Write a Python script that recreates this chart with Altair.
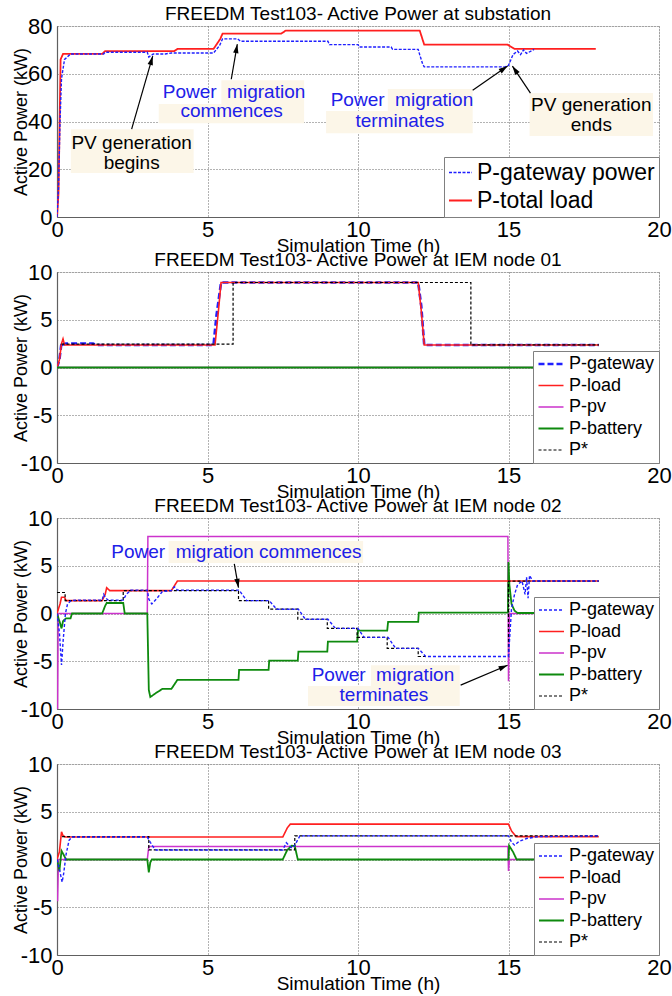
import math
import altair as alt
import pandas as pd

FONT = "Liberation Sans"
BLUE = "#1f1fff"
RED = "#ff1f1f"
MAG = "#cc33cc"
GRN = "#0e8a0e"
BLK = "#000000"
TXTBLUE = "#2020e8"
BEIGE = "#fcf6e8"
W, H = 602, 191

# ---------------- data: substation ----------------
sub_load_t = [0, 0.05, 0.12, 0.2, 1.5, 1.6, 3.9, 4.0, 5.2, 5.42, 5.5, 7.45, 7.6, 12.05, 12.2, 14.97, 15.2, 17.9]
sub_load_p = [0, 10, 66, 68.3, 68.3, 69.5, 69.5, 70.4, 70.4, 74.5, 76.8, 76.8, 78.1, 78.1, 72.2, 72.2, 70.4, 70.4]
sub_gw_t = [0, 0.05, 0.1, 0.15, 0.25, 0.45, 1.55, 1.6, 3.0, 3.05, 3.2, 3.6, 3.8, 5.2, 5.4, 5.5, 6.0, 6.1, 9.0, 9.05,
            10.0, 10.05, 11.1, 11.15, 12.0, 12.05, 12.15, 12.2, 14.9, 15.0, 15.05, 15.15, 15.3, 15.4, 15.5, 15.6, 15.85]
sub_gw_p = [0, 12, 40, 58, 66, 68.3, 68.3, 69.0, 69.0, 67.0, 68.3, 68.3, 68.7, 68.7, 71.8, 74.6, 74.6, 73.6, 73.6, 72.2,
            72.2, 71.2, 71.2, 70.2, 70.2, 68.0, 64.0, 62.9, 62.9, 63.5, 65.0, 68.0, 69.5, 68.0, 70.0, 68.5, 70.2]

# ---------------- data: IEM node 01 ----------------
n1_gw_t = [0, 0.08, 0.15, 0.2, 0.3, 1.2, 1.3, 5.2, 5.3, 5.45, 12.0, 12.1, 12.2, 18.0]
n1_gw_p = [0, 0.8, 2.6, 2.4, 2.5, 2.5, 2.36, 2.36, 5.5, 8.9, 8.9, 6.5, 2.36, 2.36]
n1_load_t = [0, 0.08, 0.15, 0.2, 0.25, 5.25, 5.35, 5.45, 12.0, 12.1, 12.2, 18.0]
n1_load_p = [0, 0.8, 2.5, 3.0, 2.36, 2.36, 5.5, 8.9, 8.9, 6.0, 2.36, 2.36]
n1_pv_t = [0, 18.0]
n1_pv_p = [0, 0]
n1_batt_t = [0, 18.0]
n1_batt_p = [0, 0]
n1_ps_t = [0.15, 5.85, 5.85, 13.75, 13.75, 18.0]
n1_ps_p = [2.45, 2.45, 8.9, 8.9, 2.36, 2.36]

# ---------------- data: IEM node 02 ----------------
n2_gw_t = [0, 0.08, 0.15, 0.2, 0.28, 0.35, 0.45, 0.6, 1.5, 1.55, 1.62, 1.7, 2.2, 2.3, 2.45, 3.0, 3.05, 3.15, 3.3, 3.5,
           3.8, 3.9, 4.0, 6.05, 6.3, 7.05, 7.3, 8.02, 8.25, 9.0, 9.25, 10.0, 10.2, 11.0, 11.25, 12.0, 12.25, 15.0, 15.05,
           15.1, 15.2, 15.3, 15.45, 15.55, 15.6, 15.65, 15.7, 15.8, 18.0]
n2_gw_p = [0, -2.0, -5.4, -3.0, 0.0, 1.0, 1.3, 1.4, 1.4, 2.0, 1.6, 1.4, 1.4, 2.0, 2.45, 2.45, 1.5, 1.0, 1.5, 2.3,
           2.4, 2.8, 2.45, 2.45, 1.35, 1.35, 0.45, 0.45, -0.6, -0.6, -1.56, -1.56, -2.5, -2.5, -3.65, -3.65, -4.5, -4.5, -2.0,
           0.5, 2.0, 3.0, 3.4, 2.0, 3.8, 1.6, 4.0, 3.4, 3.4]
n2_load_t = [0, 0.1, 0.15, 0.25, 0.3, 1.5, 1.6, 1.65, 1.75, 3.8, 4.0, 18.0]
n2_load_p = [0, 1.0, 1.7, 1.7, 1.35, 1.35, 2.0, 2.7, 2.4, 2.4, 3.4, 3.4]
n2_pv_t = [0, 0.02, 0.04, 3.0, 3.02, 14.98, 15.0, 15.03, 18.0]
n2_pv_p = [-10, -10, 0, 0, 8.05, 8.05, -7.1, 0, 0]
n2_batt_t = [0, 0.1, 0.15, 0.2, 0.3, 0.45, 0.5, 1.5, 1.6, 1.65, 2.2, 2.25, 3.0, 3.05, 3.1, 3.3, 3.5, 3.8, 4.0, 6.03,
             6.05, 7.03, 7.05, 8.0, 8.02, 8.98, 9.0, 9.97, 10.0, 10.97, 11.0, 12.0, 12.02, 14.98, 15.0, 15.03, 15.1, 15.2,
             15.3, 18.0]
n2_batt_p = [0, -1.0, -1.56, -0.8, -0.5, -0.5, 0, 0, 0.8, 1.1, 1.1, 0, 0, -8.0, -8.75, -8.3, -7.9, -7.9, -6.95, -6.95,
             -5.9, -5.9, -4.93, -4.93, -3.99, -3.99, -2.95, -2.95, -1.8, -1.8, -0.87, -0.87, 0.1, 0.1, 5.4, 3.0, 1.0, 0.3,
             0.05, 0.05]
n2_ps_t = [0, 0.27, 0.27, 2.2, 2.2, 6.03, 6.03, 7.03, 7.03, 8.0, 8.0, 8.98, 8.98, 9.97, 9.97, 10.97, 10.97, 12.0, 12.0,
           15.0, 15.0, 18.0]
n2_ps_p = [2.2, 2.2, 1.35, 1.35, 2.4, 2.4, 1.35, 1.35, 0.45, 0.45, -0.6, -0.6, -1.56, -1.56, -2.5, -2.5, -3.65, -3.65,
           -4.5, -4.5, 3.4, 3.4]

# ---------------- data: IEM node 03 ----------------
n3_gw_t = [0, 0.08, 0.17, 0.22, 0.3, 0.4, 0.5, 3.0, 3.1, 3.2, 3.3, 7.5, 7.62, 7.8, 7.9, 8.07, 15.0, 15.1, 15.2, 15.35,
           15.6, 16.0, 18.0]
n3_gw_p = [0, -1.0, -2.37, -1.5, 0.5, 2.0, 2.35, 2.35, 1.8, 1.3, 1.0, 1.0, 1.75, 1.2, 1.5, 2.47, 2.47, 1.8, 1.5, 1.9,
           2.2, 2.4, 2.47]
n3_load_t = [0, 0.08, 0.15, 0.2, 0.28, 7.5, 7.65, 7.75, 15.0, 15.1, 15.25, 18.0]
n3_load_p = [0, 0.8, 2.9, 2.5, 2.35, 2.35, 3.3, 3.7, 3.7, 3.0, 2.4, 2.4]
n3_pv_t = [0, 0.02, 0.05, 3.0, 3.05, 14.98, 15.0, 15.03, 18.0]
n3_pv_p = [-4.3, -4.3, 0, 0, 1.35, 1.35, -1.2, 0, 0]
n3_batt_t = [0, 0.08, 0.15, 0.22, 0.3, 3.0, 3.05, 3.1, 3.15, 7.5, 7.65, 7.8, 7.9, 8.0, 15.0, 15.02, 15.15, 15.27, 18.0]
n3_batt_p = [0, -1.2, 0.9, 0.5, 0, 0, -1.35, -0.3, 0, 0, 1.0, 1.45, 1.4, 0, 0, 1.45, 0.8, 0.0, 0.0]
n3_ps_t = [0.17, 3.05, 3.05, 7.9, 7.9, 18.0]
n3_ps_p = [2.4, 2.4, 1.0, 1.0, 2.47, 2.47]

# ---------------- annotations ----------------
sub_text = ["PV generation", "begins", "Power\u00a0 migration", "commences", "Power\u00a0 migration", "terminates",
            "PV generation", "ends"]
sub_text_t = [2.48, 2.48, 5.88, 5.8, 11.46, 11.39, 17.75, 17.75]
sub_text_p = [31.0, 22.6, 52.3, 44.4, 48.9, 40.2, 46.9, 38.5]
sub_text_blue = [False, False, True, True, True, True, False, False]
sub_box_t1 = [0.46, 5.46, 3.38, 10.99, 8.94, 15.70]
sub_box_t2 = [4.54, 8.21, 8.21, 13.81, 13.81, 19.80]
sub_box_p1 = [18.4, 47.3, 39.3, 44.4, 35.1, 33.9]
sub_box_p2 = [36.8, 57.3, 47.3, 53.6, 44.4, 51.9]
sub_arr_t1 = [2.48, 5.79, 13.81, 15.73]
sub_arr_p1 = [36.8, 57.7, 53.1, 51.9]
sub_arr_t2 = [3.18, 5.99, 14.97, 15.13]
sub_arr_p2 = [67.4, 72.4, 63.2, 63.2]

n2_text = ["Power\u00a0 migration commences", "Power\u00a0 migration", "terminates"]
n2_text_t = [5.96, 10.83, 10.86]
n2_text_p = [6.46, -6.46, -8.54]
n2_text_blue = [True, True, True]
n2_box_t1 = [3.71, 10.43, 8.34]
n2_box_t2 = [10.17, 13.38, 13.38]
n2_box_p1 = [5.3, -7.6, -9.69]
n2_box_p2 = [7.6, -5.42, -7.6]
n2_arr_t1 = [5.89, 13.41]
n2_arr_p1 = [5.2, -7.5]
n2_arr_t2 = [6.03, 14.97]
n2_arr_p2 = [2.7, -5.42]

NODE_NAMES = ["P-gateway", "P-load", "P-pv", "P-battery", "P*"]
ARROW = "M0,0L-0.3,1L0.3,1Z"


def xaxis():
    return alt.Axis(values=[0, 5, 10, 15, 20], title="Simulation Time (h)", titleFont=FONT, titleFontSize=19,
                    titleFontWeight="normal", titleColor="black", titleY=34, titleBaseline="alphabetic",
                    labelFont=FONT, labelFontSize=22, labelColor="black", labelPadding=2, labelFlush=False,
                    labelOverlap=False, ticks=False, tickSize=0, grid=True, gridColor="#666666", gridDash=[1, 2],
                    gridWidth=1, domainColor="#606060", domainWidth=1.2, labelExpr="'' + datum.value", zindex=0)


def yaxis(vals):
    return alt.Axis(values=vals, title="Active Power (kW)", titleFont=FONT, titleFontSize=18,
                    titleFontWeight="normal", titleColor="black", titleX=-36, titleY=H / 2, titleAngle=270,
                    titleAlign="center", titleBaseline="middle", labelFont=FONT, labelFontSize=22,
                    labelColor="black", labelPadding=5, labelOverlap=False, labelFlush=False, ticks=False,
                    tickSize=0, grid=True, gridColor="#666666", gridDash=[1, 2], gridWidth=1,
                    domainColor="#606060", domainWidth=1.2, labelExpr="'' + datum.value", zindex=0)


def panel(title, series, names, colors, dashes, widths, ydom, yvals, leg_font, leg_clip, sym_len, leg_rowpad,
          pyu, texts=None, boxes=None, arrows=None):
    xs = alt.Scale(domain=[0, 20], nice=False, zero=False)
    ys = alt.Scale(domain=ydom, nice=False, zero=False)
    XA = xaxis()
    YA = yaxis(yvals)
    leg = alt.Legend(title=None, orient="bottom-right", offset=0, symbolType="stroke", symbolSize=sym_len ** 2,
                     labelFont=FONT, labelFontSize=leg_font, labelColor="black", clipHeight=leg_clip,
                     rowPadding=leg_rowpad, padding=4, fillColor="white", strokeColor="#808080",
                     labelOffset=4, labelLimit=400)
    color = alt.Color("series:N", scale=alt.Scale(domain=names, range=colors), legend=leg)
    dash = alt.StrokeDash("series:N", scale=alt.Scale(domain=names, range=dashes), legend=leg)
    sw = alt.StrokeWidth("series:N", scale=alt.Scale(type="ordinal", domain=names, range=widths), legend=leg)
    layers = []
    if boxes:
        bdf = pd.DataFrame({"t1": boxes[0], "t2": boxes[1], "p1": boxes[2], "p2": boxes[3]})
        layers.append(alt.Chart(bdf).mark_rect(fill=BEIGE, strokeWidth=0).encode(
            x=alt.X("t1:Q", scale=xs, axis=XA), x2="t2:Q",
            y=alt.Y("p1:Q", scale=ys, axis=YA), y2="p2:Q"))
    for name, ts, ps in series:
        df = pd.DataFrame({"t": ts, "p": ps, "series": name, "i": list(range(len(ts)))})
        layers.append(alt.Chart(df).mark_line(clip=True).encode(
            x=alt.X("t:Q", scale=xs, axis=XA), y=alt.Y("p:Q", scale=ys, axis=YA),
            order="i:Q", color=color, strokeDash=dash, strokeWidth=sw))
    if arrows:
        t1, p1, t2, p2 = arrows
        ang = [(math.degrees(math.atan2((b - a) * (W / 20.0), (d - c) * pyu)) + 360.0) % 360.0
               for a, b, c, d in zip(t1, t2, p1, p2)]
        adf = pd.DataFrame({"t1": t1, "p1": p1, "t2": t2, "p2": p2, "ang": ang})
        layers.append(alt.Chart(adf).mark_rule(color="black", strokeWidth=1.2).encode(
            x=alt.X("t1:Q", scale=xs, axis=XA), x2="t2:Q", y=alt.Y("p1:Q", scale=ys, axis=YA), y2="p2:Q"))
        layers.append(alt.Chart(adf).mark_point(shape=ARROW, filled=True, color="black", size=324, opacity=1,
                                                strokeWidth=0).encode(
            x=alt.X("t2:Q", scale=xs, axis=XA), y=alt.Y("p2:Q", scale=ys, axis=YA),
            angle=alt.Angle("ang:Q", scale=None)))
    if texts:
        txt, tt, tp, isblue = texts
        tdf = pd.DataFrame({"txt": txt, "t": tt, "p": tp, "blue": isblue})
        for flag, col in [(False, "black"), (True, TXTBLUE)]:
            sub = tdf[tdf["blue"] == flag]
            if len(sub):
                layers.append(alt.Chart(sub).mark_text(font=FONT, fontSize=19, align="center", baseline="middle",
                                                       color=col).encode(
                    x=alt.X("t:Q", scale=xs, axis=XA), y=alt.Y("p:Q", scale=ys, axis=YA), text="txt:N"))
    return alt.layer(*layers).properties(
        width=W, height=H,
        title=alt.TitleParams(text=title, font=FONT, fontSize=19, fontWeight="normal", color="black",
                              anchor="middle", frame="group", offset=-9))


NODE_COLORS = [BLUE, RED, MAG, GRN, BLK]

p1 = panel("FREEDM Test103- Active Power at substation",
           [("P-total load", sub_load_t, sub_load_p), ("P-gateway power", sub_gw_t, sub_gw_p)],
           ["P-gateway power", "P-total load"], [BLUE, RED], [[3, 1.5], [1, 0]], [1.4, 1.8],
           [0, 80], [0, 20, 40, 60, 80], 23, 23, 23, 4, H / 80.0,
           texts=(sub_text, sub_text_t, sub_text_p, sub_text_blue),
           boxes=(sub_box_t1, sub_box_t2, sub_box_p1, sub_box_p2),
           arrows=(sub_arr_t1, sub_arr_p1, sub_arr_t2, sub_arr_p2))

p2 = panel("FREEDM Test103- Active Power at IEM node 01",
           [("P-gateway", n1_gw_t, n1_gw_p), ("P-load", n1_load_t, n1_load_p), ("P-pv", n1_pv_t, n1_pv_p),
            ("P-battery", n1_batt_t, n1_batt_p), ("P*", n1_ps_t, n1_ps_p)],
           NODE_NAMES, NODE_COLORS, [[6, 3], [1, 0], [1, 0], [1, 0], [3, 2]], [2.6, 1.6, 1.5, 1.8, 1.2],
           [-10, 10], [-10, -5, 0, 5, 10], 18, 18, 25, 3.5, H / 20.0)

p3 = panel("FREEDM Test103- Active Power at IEM node 02",
           [("P-pv", n2_pv_t, n2_pv_p), ("P-battery", n2_batt_t, n2_batt_p), ("P-load", n2_load_t, n2_load_p),
            ("P*", n2_ps_t, n2_ps_p), ("P-gateway", n2_gw_t, n2_gw_p)],
           NODE_NAMES, NODE_COLORS, [[3, 2], [1, 0], [1, 0], [1, 0], [3, 2]], [1.4, 1.6, 1.5, 1.8, 1.2],
           [-10, 10], [-10, -5, 0, 5, 10], 18, 18, 25, 3.5, H / 20.0,
           texts=(n2_text, n2_text_t, n2_text_p, n2_text_blue),
           boxes=(n2_box_t1, n2_box_t2, n2_box_p1, n2_box_p2),
           arrows=(n2_arr_t1, n2_arr_p1, n2_arr_t2, n2_arr_p2))

p4 = panel("FREEDM Test103- Active Power at IEM node 03",
           [("P-pv", n3_pv_t, n3_pv_p), ("P-battery", n3_batt_t, n3_batt_p), ("P-load", n3_load_t, n3_load_p),
            ("P*", n3_ps_t, n3_ps_p), ("P-gateway", n3_gw_t, n3_gw_p)],
           NODE_NAMES, NODE_COLORS, [[3, 2], [1, 0], [1, 0], [1, 0], [3, 2]], [1.4, 1.6, 1.5, 1.8, 1.2],
           [-10, 10], [-10, -5, 0, 5, 10], 18, 18, 25, 3.5, H / 20.0)

chart = alt.vconcat(p1, p2, p3, p4, spacing=55, bounds="flush").resolve_scale(
    x="independent", y="independent", color="independent", strokeDash="independent", strokeWidth="independent"
).resolve_legend(
    color="independent", strokeDash="independent", strokeWidth="independent"
).properties(
    padding={"left": 11, "top": 4, "right": 0, "bottom": 0},
    background="white",
).configure_view(strokeWidth=0).configure(font=FONT)

chart.save("out.html", embed_options={"renderer": "svg", "actions": False})
